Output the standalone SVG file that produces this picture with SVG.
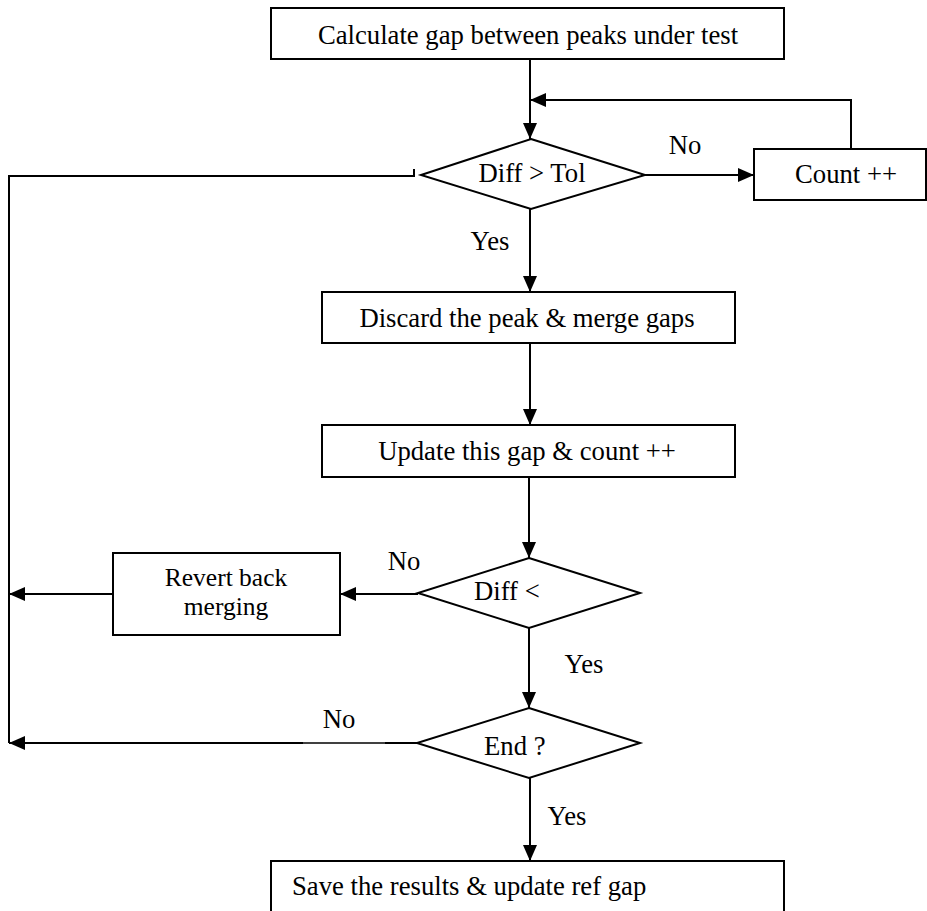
<svg xmlns="http://www.w3.org/2000/svg" width="927" height="911" viewBox="0 0 927 911">
  <defs>
    <marker id="arrow" markerUnits="userSpaceOnUse" markerWidth="16" markerHeight="14" viewBox="0 0 16 14" refX="16" refY="7" orient="auto">
      <path d="M0,0 L16,7 L0,14 Z" fill="#000"/>
    </marker>
  </defs>
  <style>
    .shape { fill: #fff; stroke: #000; stroke-width: 2; }
    .line { fill: none; stroke: #000; stroke-width: 2; }
    .arr { fill: none; stroke: #000; stroke-width: 2; marker-end: url(#arrow); }
    text { font-family: "Liberation Serif", "Times New Roman", serif; font-size: 26.7px; fill: #000; }
    .c { text-anchor: middle; }
    .tight { font-size: 25.5px; }
  </style>
  <rect width="927" height="911" fill="#fff"/>

  <!-- connectors -->
  <g id="connectors">
    <line class="arr" x1="530" y1="59" x2="530" y2="139"/>
    <polyline class="arr" points="851,149 851,100 530,100"/>
    <line class="arr" x1="645" y1="175" x2="754" y2="175"/>
    <line class="arr" x1="530" y1="209" x2="530" y2="292"/>
    <line class="arr" x1="530" y1="343" x2="530" y2="425"/>
    <line class="arr" x1="529" y1="477" x2="529" y2="558"/>
    <line class="arr" x1="418" y1="594" x2="340" y2="594"/>
    <line class="arr" x1="113" y1="594" x2="9" y2="594"/>
    <line class="arr" x1="529" y1="628" x2="529" y2="708"/>
    <!-- "No" branch from End ? back to the left rail -->
    <line class="line" x1="417" y1="743" x2="385" y2="743"/>
    <line class="line" x1="385" y1="743" x2="303" y2="743" style="stroke-width:1.3"/>
    <line class="arr" x1="303" y1="743" x2="9" y2="743"/>
    <line class="arr" x1="530" y1="778" x2="530" y2="861"/>
    <!-- left return rail -->
    <polyline class="line" points="414,176 9,176 9,743"/>
    <line class="line" x1="414" y1="169" x2="414" y2="177"/>
  </g>

  <!-- nodes -->
  <g id="calc">
    <rect class="shape" x="271" y="8" width="513" height="51"/>
    <text class="c" x="528" y="44">Calculate gap between peaks under test</text>
  </g>
  <g id="diff-tol">
    <polygon class="shape" points="531,139 645,175 531,209 421,175"/>
    <text class="c" x="532" y="182">Diff &gt; Tol</text>
  </g>
  <g id="count">
    <rect class="shape" x="754" y="149" width="172" height="51"/>
    <text class="c" x="846" y="183">Count ++</text>
  </g>
  <g id="discard">
    <rect class="shape" x="322" y="292" width="413" height="51"/>
    <text class="c" x="527" y="327">Discard the peak &amp; merge gaps</text>
  </g>
  <g id="update">
    <rect class="shape" x="322" y="425" width="413" height="52"/>
    <text class="c" x="527" y="460">Update this gap &amp; count ++</text>
  </g>
  <g id="diff-lt">
    <polygon class="shape" points="529,558 640,593 529,628 418,593"/>
    <text x="474" y="600">Diff &lt;</text>
  </g>
  <g id="revert">
    <rect class="shape" x="113" y="553" width="227" height="82"/>
    <text class="c tight" x="226" y="586">Revert back</text>
    <text class="c tight" x="226" y="615">merging</text>
  </g>
  <g id="end">
    <polygon class="shape" points="529,708 640,743 529,778 417,743"/>
    <text x="484" y="755">End ?</text>
  </g>
  <g id="save">
    <rect class="shape" x="271" y="861" width="513" height="60"/>
    <text x="292" y="895">Save the results &amp; update ref gap</text>
  </g>

  <!-- branch labels -->
  <g id="labels">
    <text class="c" x="685" y="154">No</text>
    <text class="c" x="490" y="250">Yes</text>
    <text class="c" x="404" y="570">No</text>
    <text class="c" x="584" y="673">Yes</text>
    <text class="c" x="339" y="728">No</text>
    <text class="c" x="567" y="825">Yes</text>
  </g>
</svg>
